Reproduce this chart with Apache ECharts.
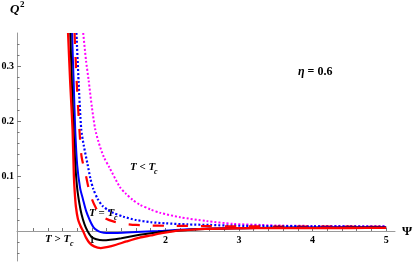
<!DOCTYPE html>
<html>
<head>
<meta charset="utf-8">
<script src="https://cdn.jsdelivr.net/npm/echarts@6/dist/echarts.min.js"></script>
<style>
html,body{margin:0;padding:0;background:#fff;}
#c{width:415px;height:263px;}
</style>
</head>
<body>
<div id="c"></div>
<script>
// ---- data (Ψ, Q²) ----
const psiRedSolid = [0.676, 0.705, 0.737, 0.755, 0.767, 0.782, 0.81, 0.845, 0.88, 0.92, 0.97, 1.03, 1.12, 1.22, 1.33, 1.47, 1.65, 1.8, 1.95, 2.2, 2.55, 3.0, 3.5, 4.0, 4.5, 5.0];
const q2RedSolid  = [0.36, 0.27, 0.185, 0.10, 0.07, 0.045, 0.022, 0.009, 0.0, -0.012, -0.022, -0.028, -0.031, -0.029, -0.025, -0.019, -0.012, -0.008, -0.004, 0.001, 0.004, 0.005, 0.0052, 0.0054, 0.0055, 0.0056];

const psiBlack = [0.706, 0.73, 0.75, 0.775, 0.80, 0.83, 0.86, 0.90, 0.94, 0.99, 1.06, 1.15, 1.25, 1.4, 1.65, 1.8, 2.0, 2.3, 2.6, 3.0, 3.5, 4.0, 4.5, 5.0];
const q2Black  = [0.36, 0.26, 0.185, 0.12, 0.078, 0.05, 0.03, 0.012, 0.0, -0.01, -0.015, -0.017, -0.016, -0.013, -0.007, -0.004, -0.001, 0.002, 0.004, 0.005, 0.0058, 0.006, 0.0062, 0.0063];

const psiBlueSolid = [0.73, 0.755, 0.773, 0.80, 0.84, 0.88, 0.92, 0.97, 1.02, 1.07, 1.12, 1.2, 1.35, 1.6, 1.9, 2.3, 2.7, 3.0, 3.5, 4.0, 4.5, 5.0];
const q2BlueSolid  = [0.36, 0.26, 0.185, 0.12, 0.078, 0.057, 0.037, 0.02, 0.007, 0.001, -0.002, -0.0035, -0.0035, -0.002, 0.0, 0.003, 0.0045, 0.005, 0.006, 0.0065, 0.0068, 0.007];

const psiRedDashed = [0.764, 0.79, 0.83, 0.86, 0.92, 0.96, 1.0, 1.05, 1.1, 1.18, 1.3, 1.45, 1.6, 1.8, 2.0, 2.5, 3.0, 3.5, 4.0, 4.5, 5.0];
const q2RedDashed  = [0.36, 0.28, 0.185, 0.135, 0.10, 0.075, 0.058, 0.043, 0.032, 0.023, 0.017, 0.013, 0.011, 0.01, 0.0095, 0.009, 0.0085, 0.0082, 0.008, 0.0078, 0.0076];

const psiBlueDotted = [0.79, 0.82, 0.855, 0.89, 0.94, 0.98, 1.02, 1.08, 1.15, 1.22, 1.29, 1.43, 1.6, 1.8, 2.0, 2.3, 2.6, 2.92, 3.5, 4.0, 4.5, 5.0];
const q2BlueDotted  = [0.36, 0.27, 0.185, 0.155, 0.122, 0.095, 0.076, 0.058, 0.045, 0.038, 0.033, 0.026, 0.02, 0.016, 0.014, 0.012, 0.011, 0.0097, 0.009, 0.0086, 0.0083, 0.008];

const psiMagenta = [0.882, 0.92, 0.955, 1.0, 1.045, 1.09, 1.16, 1.24, 1.38, 1.46, 1.55, 1.65, 1.8, 1.93, 2.2, 2.56, 2.92, 3.3, 3.6, 4.0, 4.5, 5.0];
const q2Magenta  = [0.36, 0.31, 0.275, 0.225, 0.185, 0.162, 0.135, 0.115, 0.08, 0.068, 0.057, 0.048, 0.039, 0.033, 0.025, 0.018, 0.013, 0.011, 0.0098, 0.0092, 0.0088, 0.0086];

const xMajorTicks = [1, 2, 3, 4, 5];
const xAllTicks = [0.2,0.4,0.6,0.8,1,1.2,1.4,1.6,1.8,2,2.2,2.4,2.6,2.8,3,3.2,3.4,3.6,3.8,4,4.2,4.4,4.6,4.8,5];
const yMajorTicks = [0.1, 0.2, 0.3];
const yMinorTicks = [0.02,0.04,0.06,0.08,0.12,0.14,0.16,0.18,0.22,0.24,0.26,0.28,0.32,0.34];
const yNegTicks = [-0.04, -0.02];

const pairs = (xs, ys) => xs.map((x, i) => [x, ys[i]]);

const X_MIN = -0.018, X_MAX = 5.12, Y_MAX = 0.36, Y_NEG_MIN = -0.0545;
const axisGray = '#9a9a9a';
const tickGray = '#777';
const serif = '"Liberation Serif", "DejaVu Serif", serif';

const chart = echarts.init(document.getElementById('c'), null, {renderer: 'canvas'});

const line = (name, xs, ys, color, width, type) => ({
  name, type: 'line', xAxisIndex: 0, yAxisIndex: 0,
  data: pairs(xs, ys), showSymbol: false, symbol: 'none',
  smooth: 0.25, clip: false, animation: false,
  lineStyle: {color, width, type}
});

const richStyle = {
  i: {font: 'italic bold 11px ' + serif, fill: '#000'},
  b: {font: 'bold 11px ' + serif, fill: '#000'}
};

chart.setOption({
  animation: false,
  backgroundColor: '#fff',
  grid: [
    {left: 17, right: 20, top: 33, bottom: 32, containLabel: false, outerBoundsMode: 'none'},
    {left: 17, right: 20, top: 231, bottom: 2, containLabel: false, outerBoundsMode: 'none'}
  ],
  xAxis: [
    {
      gridIndex: 0, type: 'value', min: X_MIN, max: X_MAX, position: 'bottom',
      splitLine: {show: false},
      axisLine: {show: true, onZero: false, lineStyle: {color: axisGray, width: 1}},
      axisTick: {show: true, inside: true, length: 3, customValues: xAllTicks, lineStyle: {color: tickGray}},
      axisLabel: {show: true, customValues: xMajorTicks, margin: 4, color: '#000',
        fontFamily: serif, fontWeight: 'bold', fontSize: 10}
    },
    {gridIndex: 1, type: 'value', min: X_MIN, max: X_MAX, show: false}
  ],
  yAxis: [
    {
      gridIndex: 0, type: 'value', min: 0, max: Y_MAX, position: 'left',
      splitLine: {show: false},
      axisLine: {show: true, onZero: false, lineStyle: {color: axisGray, width: 1}},
      axisTick: {show: true, inside: true, length: 4, customValues: yMajorTicks, lineStyle: {color: tickGray}},
      axisLabel: {show: true, customValues: yMajorTicks, margin: 3, color: '#000',
        fontFamily: serif, fontWeight: 'bold', fontSize: 10,
        formatter: v => String(Math.round(v * 10) / 10)}
    },
    {
      gridIndex: 0, type: 'value', min: 0, max: Y_MAX, position: 'left',
      splitLine: {show: false},
      axisLine: {show: false, onZero: false},
      axisTick: {show: true, inside: true, length: 2.5, customValues: yMinorTicks, lineStyle: {color: tickGray}},
      axisLabel: {show: false}
    },
    {
      gridIndex: 1, type: 'value', min: Y_NEG_MIN, max: 0, position: 'left',
      splitLine: {show: false},
      axisLine: {show: true, onZero: false, lineStyle: {color: axisGray, width: 1}},
      axisTick: {show: true, inside: true, length: 2.5, customValues: yNegTicks, lineStyle: {color: tickGray}},
      axisLabel: {show: false}
    }
  ],
  series: [
    line('magenta', psiMagenta, q2Magenta, '#ff00ff', 2, [2, 2]),
    line('blueDotted', psiBlueDotted, q2BlueDotted, '#0000ff', 2.2, [2, 2]),
    line('redDashed', psiRedDashed, q2RedDashed, '#ff0000', 2.2, [11, 13]),
    line('blueSolid', psiBlueSolid, q2BlueSolid, '#0000ff', 2, 'solid'),
    line('black', psiBlack, q2Black, '#000000', 2, 'solid'),
    line('redSolid', psiRedSolid, q2RedSolid, '#ff0000', 2.3, 'solid')
  ],
  graphic: [
    {type: 'text', left: 10, top: 3, style: {text: 'Q', font: 'italic bold 13px ' + serif, fill: '#000'}},
    {type: 'text', left: 20, top: 0, style: {text: '2', font: 'bold 9px ' + serif, fill: '#000'}},
    {type: 'text', left: 402, top: 225, style: {text: 'Ψ', font: 'bold 13px ' + serif, fill: '#000'}},
    {type: 'text', left: 298, top: 66, style: {
      rich: {
        i: {font: 'italic bold 12px ' + serif, fill: '#000'},
        e: {font: 'bold 12px ' + serif, fill: '#000', padding: [0, 3, 0, 3]},
        b: {font: 'bold 12px ' + serif, fill: '#000'}
      },
      text: '{i|η}{e|=}{b|0.6}'}},
    {type: 'text', left: 130, top: 162, style: {rich: richStyle, text: '{i|T}{b| < }{i|T}'}},
    {type: 'text', left: 154, top: 168, style: {text: 'c', font: 'italic bold 8px ' + serif, fill: '#000'}},
    {type: 'text', left: 89, top: 208, style: {rich: richStyle, text: '{i|T}{b| = }{i|T}'}},
    {type: 'text', left: 114, top: 214, style: {text: 'c', font: 'italic bold 8px ' + serif, fill: '#000'}},
    {type: 'text', left: 45, top: 234, style: {rich: richStyle, text: '{i|T}{b| > }{i|T}'}},
    {type: 'text', left: 70, top: 240, style: {text: 'c', font: 'italic bold 8px ' + serif, fill: '#000'}}
  ]
});
</script>
</body>
</html>
